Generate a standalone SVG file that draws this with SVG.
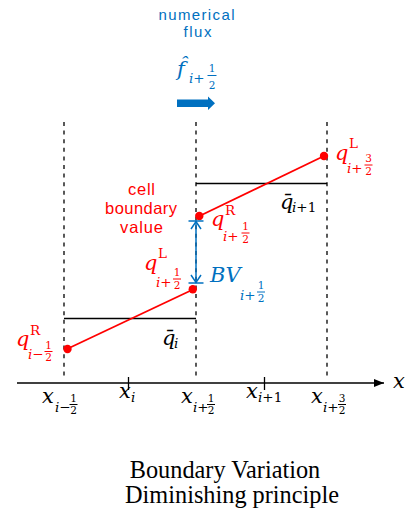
<svg xmlns="http://www.w3.org/2000/svg" width="408" height="517" viewBox="0 0 408 517">
<defs>
<style>
.m{font-family:"DejaVu Serif",serif;font-style:italic;font-size:21px}
.sb{font-family:"DejaVu Serif",serif;font-style:italic;font-size:13.5px}
.up{font-style:normal}
.sp{font-family:"DejaVu Serif",serif;font-size:13.5px}
.fd{font-family:"DejaVu Serif",serif;font-size:10.5px;text-anchor:middle}
.sansb{font-family:"Liberation Sans",Arial,sans-serif;font-size:15px;text-anchor:middle}
.sansr{font-family:"Liberation Sans",Arial,sans-serif;font-size:16.5px;text-anchor:middle}
.title{font-family:"Liberation Serif",serif;font-size:24.3px;text-anchor:middle;fill:#000}
.dash{stroke:#000;stroke-width:1.3;stroke-dasharray:4 4.6;fill:none}
.bar{stroke:#000;stroke-width:1.6;fill:none}
.red{fill:#FF0000}
.blue{fill:#0070C0}
.rl{stroke:#FF0000;stroke-width:1.8;fill:none}
.fbr{stroke:#FF0000;stroke-width:1}
.fbb{stroke:#0070C0;stroke-width:1}
.fbk{stroke:#000;stroke-width:1}
</style>
<marker id="axhead" viewBox="0 0 10 10" refX="10" refY="5" markerWidth="10" markerHeight="10" markerUnits="userSpaceOnUse" orient="auto">
<path d="M0,1 L10,5 L0,9 Z" fill="#000"/>
</marker>
</defs>
<rect width="408" height="517" fill="#fff"/>

<g id="connectors">
<line class="dash" x1="64" y1="122" x2="64" y2="378"/>
<line class="dash" x1="196" y1="122" x2="196" y2="378"/>
<line class="dash" x1="327" y1="122" x2="327" y2="378"/>
<line x1="17" y1="383" x2="384" y2="383" stroke="#000" stroke-width="1.5" marker-end="url(#axhead)"/>
<line x1="128.5" y1="377" x2="128.5" y2="390" stroke="#000" stroke-width="1.3"/>
<line x1="264.5" y1="377" x2="264.5" y2="390" stroke="#000" stroke-width="1.3"/>
</g>

<g id="cell-i">
<line class="bar" x1="64" y1="318.5" x2="196" y2="318.5"/>
<line class="rl" x1="67" y1="349" x2="193" y2="289.5"/>
<circle cx="67.5" cy="349" r="4.2" fill="#FF0000"/>
<circle cx="192.8" cy="289.3" r="4.2" fill="#FF0000"/>
</g>

<g id="cell-i1">
<line class="bar" x1="196" y1="183.5" x2="327" y2="183.5"/>
<line class="rl" x1="199.5" y1="216" x2="324" y2="156"/>
<circle cx="199.3" cy="216" r="4.2" fill="#FF0000"/>
<circle cx="324" cy="156" r="4.2" fill="#FF0000"/>
</g>

<g id="bv-arrow" stroke="#0070C0" stroke-width="1.5" fill="none">
<line x1="196" y1="221" x2="196" y2="283"/>
<line x1="188.5" y1="221" x2="203.5" y2="221"/>
<line x1="188.5" y1="283" x2="203.5" y2="283"/>
<polyline points="191,229 196,221.5 201,229"/>
<polyline points="191,275 196,282.5 201,275"/>
</g>

<g id="flux-arrow">
<path d="M177,99.5 L208,99.5 L208,96.5 L215,103.3 L208,110 L208,107 L177,107 Z" fill="#0070C0"/>
</g>

<g id="flux-label" class="blue">
<text class="sansb" x="196.5" y="20" textLength="76" lengthAdjust="spacing">numerical</text>
<text class="sansb" x="197.5" y="37" textLength="28" lengthAdjust="spacing">flux</text>
<text class="m" x="177" y="76" font-size="23">f̂</text>
<text class="sb" x="189" y="83" font-size="14">i<tspan class="up">+</tspan></text>
<text class="fd" x="212" y="72" font-size="12.5">1</text>
<line class="fbb" x1="207.5" y1="75.5" x2="216.5" y2="75.5"/>
<text class="fd" x="212" y="88.5" font-size="12.5">2</text>
</g>

<g id="cbv-label" class="red">
<text class="sansr" x="141.5" y="195" textLength="27" lengthAdjust="spacing">cell</text>
<text class="sansr" x="141" y="214" textLength="72" lengthAdjust="spacing">boundary</text>
<text class="sansr" x="141.5" y="233" textLength="43" lengthAdjust="spacing">value</text>
</g>

<g id="qR-im" class="red">
<text class="m" x="16" y="346">q</text>
<text class="sp" x="30" y="335">R</text>
<text class="sb" x="28" y="359">i<tspan class="up">−</tspan></text>
<text class="fd" x="48.5" y="348.5">1</text>
<line class="fbr" x1="44.5" y1="351.5" x2="52.5" y2="351.5"/>
<text class="fd" x="48.5" y="361">2</text>
</g>

<g id="qL-ip" class="red">
<text class="m" x="144" y="270">q</text>
<text class="sp" x="158" y="258">L</text>
<text class="sb" x="156" y="287">i<tspan class="up">+</tspan></text>
<text class="fd" x="177" y="276">1</text>
<line class="fbr" x1="173" y1="279" x2="181" y2="279"/>
<text class="fd" x="177" y="288.5">2</text>
</g>

<g id="qR-ip" class="red">
<text class="m" x="211" y="226">q</text>
<text class="sp" x="225" y="215">R</text>
<text class="sb" x="223" y="241">i<tspan class="up">+</tspan></text>
<text class="fd" x="245.5" y="230">1</text>
<line class="fbr" x1="241.5" y1="233" x2="249.5" y2="233"/>
<text class="fd" x="245.5" y="242.5">2</text>
</g>

<g id="qL-i3" class="red">
<text class="m" x="335" y="160">q</text>
<text class="sp" x="349" y="148">L</text>
<text class="sb" x="347" y="173">i<tspan class="up">+</tspan></text>
<text class="fd" x="368.5" y="162">3</text>
<line class="fbr" x1="364.5" y1="165" x2="372.5" y2="165"/>
<text class="fd" x="368.5" y="174.5">2</text>
</g>

<g id="bv-label" class="blue">
<text class="m" x="210" y="282">BV</text>
<text class="sb" x="240" y="300">i<tspan class="up">+</tspan></text>
<text class="fd" x="261" y="289">1</text>
<line class="fbb" x1="257" y1="292" x2="265" y2="292"/>
<text class="fd" x="261" y="301.5">2</text>
</g>

<g id="qbar-i">
<text class="m" x="162" y="345">q̄</text>
<text class="sb" x="174" y="348" font-size="14">i</text>
</g>

<g id="qbar-i1">
<text class="m" x="280" y="209">q̄</text>
<text class="sb" x="292" y="212" font-size="14">i<tspan class="up">+1</tspan></text>
</g>

<g id="xlabels">
<text class="m" x="393" y="388" font-size="22">x</text>
<text class="m" x="42" y="403">x</text>
<text class="sb" x="55" y="412">i<tspan class="up">−</tspan></text>
<text class="fd" x="73.5" y="401.5">1</text>
<line class="fbk" x1="69.5" y1="404.5" x2="77.5" y2="404.5"/>
<text class="fd" x="73.5" y="414">2</text>

<text class="m" x="119" y="398">x</text>
<text class="sb" x="131" y="402">i</text>

<text class="m" x="181" y="403">x</text>
<text class="sb" x="193" y="412">i<tspan class="up">+</tspan></text>
<text class="fd" x="211" y="401.5">1</text>
<line class="fbk" x1="207" y1="404.5" x2="215" y2="404.5"/>
<text class="fd" x="211" y="414">2</text>

<text class="m" x="246" y="398">x</text>
<text class="sb" x="258" y="402">i<tspan class="up">+1</tspan></text>

<text class="m" x="311" y="403">x</text>
<text class="sb" x="323" y="412">i<tspan class="up">+</tspan></text>
<text class="fd" x="342" y="401.5">3</text>
<line class="fbk" x1="338" y1="404.5" x2="346" y2="404.5"/>
<text class="fd" x="342" y="414">2</text>
</g>

<g id="caption">
<text class="title" x="225" y="478">Boundary Variation</text>
<text class="title" x="232" y="503">Diminishing principle</text>
</g>
</svg>
